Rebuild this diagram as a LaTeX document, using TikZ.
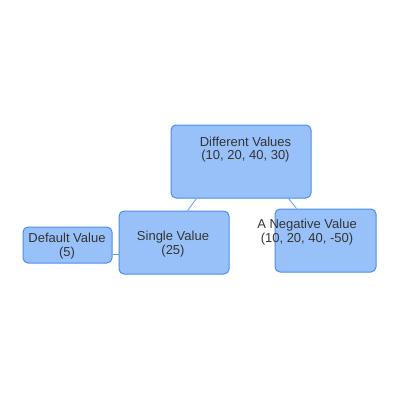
\documentclass[tikz,border=0pt]{standalone}
\usepackage{fontspec}
\setmainfont{Liberation Sans}
\usetikzlibrary{calc}
\definecolor{boxfill}{HTML}{99C1F9}
\definecolor{boxline}{HTML}{4B8DE8}
\definecolor{txt}{HTML}{333333}

\begin{document}
\begin{tikzpicture}[x=1pt, y=-1pt,
    box/.style={draw=boxline, fill=boxfill, rounded corners=5pt, line width=1pt, inner sep=0pt},
    lbl/.style={text=txt, font=\fontsize{13}{13.5}\selectfont, align=center, inner sep=0pt},
    link/.style={draw=boxline!85, line width=0.8pt}]
    \useasboundingbox (0,0) rectangle (400,400);
    % boxes
    \node[box, minimum width=140pt, minimum height=73pt] (diff) at (241,161.5) {};
    \node[box, minimum width=110pt, minimum height=63pt] (single) at (174,242.5) {};
    \node[box, minimum width=89pt, minimum height=36pt] (default) at (67.5,245) {};
    \node[box, minimum width=101pt, minimum height=63pt] (neg) at (325.5,240.5) {};
    % connectors
    \draw[link] ($(diff.south west)+(26,0)$) -- ($(single.north west)+(69,0)$);
    \draw[link] ($(diff.south east)+(-23,0)$) -- ($(neg.north west)+(22,0)$);
    \draw[link] ($(default.east)+(0,9)$) -- ($(single.west)+(0,11.5)$);
    % texts
    \node[lbl] (diffText) at (245.5,149.5) {Different Values\\(10, 20, 40, 30)};
    \node[lbl] (singleText) at (173,244) {Single Value\\(25)};
    \node[lbl] (defaultText) at (67,246) {Default Value\\(5)};
    \node[lbl] (negText) at (307,232) {A Negative Value\\(10, 20, 40, -50)};
\end{tikzpicture}
\end{document}
